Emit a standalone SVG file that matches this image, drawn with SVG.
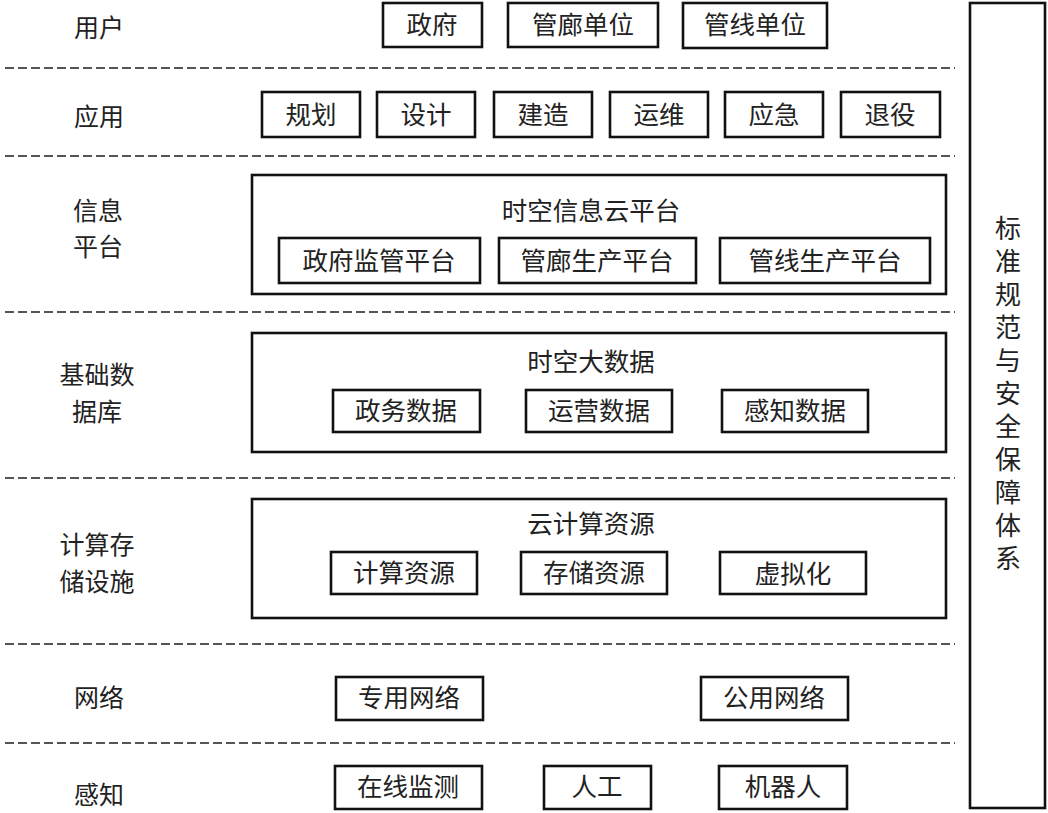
<svg xmlns="http://www.w3.org/2000/svg" width="1048" height="813" viewBox="0 0 1048 813">
<style>
.bg{fill:#fff}
.box{fill:#fff;stroke:#111;stroke-width:2.6}
.sep{stroke:#555;stroke-width:2;stroke-dasharray:9 4;fill:none}
text{font-family:"Noto Sans CJK SC","Noto Sans",sans-serif;fill:#222;font-size:25.5px;text-anchor:middle;dominant-baseline:central}
.lab{font-size:25px}
.vt{font-size:26px;writing-mode:vertical-rl;letter-spacing:7px}
</style>
<rect class="bg" x="0" y="0" width="1048" height="813"/>
<g id="separators">
<line class="sep" x1="5" y1="68" x2="955" y2="68"/>
<line class="sep" x1="5" y1="156" x2="955" y2="156"/>
<line class="sep" x1="5" y1="312" x2="955" y2="312"/>
<line class="sep" x1="5" y1="478" x2="955" y2="478"/>
<line class="sep" x1="5" y1="644" x2="955" y2="644"/>
<line class="sep" x1="5" y1="743" x2="955" y2="743"/>
</g>
<g id="labels">
<text class="lab" x="99" y="26">用户</text>
<text class="lab" x="99" y="115">应用</text>
<text class="lab" x="98" y="209">信息</text>
<text class="lab" x="98" y="245">平台</text>
<text class="lab" x="97" y="373">基础数</text>
<text class="lab" x="97" y="410">据库</text>
<text class="lab" x="97" y="543">计算存</text>
<text class="lab" x="97" y="580">储设施</text>
<text class="lab" x="99" y="696">网络</text>
<text class="lab" x="99" y="793">感知</text>
</g>
<g id="users">
<g id="n-gov"><rect class="box" x="383" y="3" width="99" height="44"/><text x="432" y="22">政府</text></g>
<g id="n-gallery"><rect class="box" x="508" y="3" width="150" height="44"/><text x="583" y="22">管廊单位</text></g>
<g id="n-pipeline"><rect class="box" x="683" y="3" width="144" height="45"/><text x="755" y="22">管线单位</text></g>
</g>
<g id="apps">
<g id="n-plan"><rect class="box" x="262" y="92" width="98" height="45"/><text x="311" y="112">规划</text></g>
<g id="n-design"><rect class="box" x="377" y="92" width="98" height="45"/><text x="426" y="112">设计</text></g>
<g id="n-build"><rect class="box" x="494" y="92" width="98" height="45"/><text x="543" y="112">建造</text></g>
<g id="n-om"><rect class="box" x="610" y="92" width="98" height="45"/><text x="659" y="112">运维</text></g>
<g id="n-emerg"><rect class="box" x="725" y="92" width="98" height="45"/><text x="774" y="112">应急</text></g>
<g id="n-retire"><rect class="box" x="841" y="92" width="99" height="45"/><text x="890" y="112">退役</text></g>
</g>
<g id="info-platform">
<rect class="box" x="252" y="175" width="694" height="119"/>
<text x="591" y="208">时空信息云平台</text>
<g id="n-govsup"><rect class="box" x="279" y="238" width="201" height="45"/><text x="379" y="258">政府监管平台</text></g>
<g id="n-galprod"><rect class="box" x="499" y="238" width="197" height="45"/><text x="597" y="258">管廊生产平台</text></g>
<g id="n-pipeprod"><rect class="box" x="720" y="238" width="210" height="45"/><text x="825" y="258">管线生产平台</text></g>
</g>
<g id="base-db">
<rect class="box" x="252" y="333" width="694" height="119"/>
<text x="591" y="359">时空大数据</text>
<g id="n-govdata"><rect class="box" x="333" y="390" width="147" height="42"/><text x="406" y="408">政务数据</text></g>
<g id="n-opdata"><rect class="box" x="526" y="390" width="146" height="42"/><text x="599" y="408">运营数据</text></g>
<g id="n-sensedata"><rect class="box" x="722" y="390" width="146" height="42"/><text x="795" y="408">感知数据</text></g>
</g>
<g id="compute">
<rect class="box" x="252" y="499" width="694" height="119"/>
<text x="591" y="521">云计算资源</text>
<g id="n-comp"><rect class="box" x="331" y="552" width="146" height="42"/><text x="404" y="570">计算资源</text></g>
<g id="n-store"><rect class="box" x="521" y="552" width="146" height="42"/><text x="594" y="570">存储资源</text></g>
<g id="n-virt"><rect class="box" x="720" y="552" width="146" height="42"/><text x="793" y="571">虚拟化</text></g>
</g>
<g id="network">
<g id="n-private"><rect class="box" x="336" y="677" width="147" height="43"/><text x="409" y="695">专用网络</text></g>
<g id="n-public"><rect class="box" x="701" y="677" width="147" height="43"/><text x="774" y="695">公用网络</text></g>
</g>
<g id="sensing">
<g id="n-online"><rect class="box" x="335" y="766" width="147" height="43"/><text x="408" y="784">在线监测</text></g>
<g id="n-manual"><rect class="box" x="544" y="766" width="107" height="43"/><text x="597" y="784">人工</text></g>
<g id="n-robot"><rect class="box" x="719" y="766" width="128" height="43"/><text x="783" y="784">机器人</text></g>
</g>
<g id="standards">
<rect class="box" x="970" y="3" width="75" height="805"/>
<text class="vt" x="1008" y="397">标准规范与安全保障体系</text>
</g>
</svg>
